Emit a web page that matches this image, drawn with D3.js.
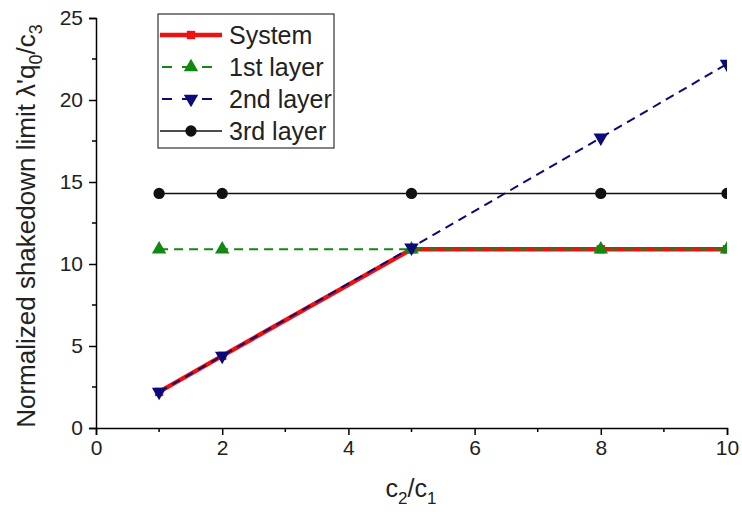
<!DOCTYPE html>
<html><head><meta charset="utf-8">
<script src="https://cdn.jsdelivr.net/npm/d3@7"></script>
<style>body{margin:0;background:#fff}svg{display:block;font-family:Arial,"Liberation Sans",sans-serif}</style>
</head><body><svg id="c" width="742" height="515"></svg>
<script>
const xVals = [1, 2, 5, 8, 10];
const systemVals = [2.2, 4.4, 10.9, 10.9, 10.9];
const layer1Vals = [10.9, 10.9, 10.9, 10.9, 10.9];
const layer2Vals = [2.2, 4.4, 11.0, 17.7, 22.2];
const layer3Vals = [14.3, 14.3, 14.3, 14.3, 14.3];
const seriesNames = ["System", "1st layer", "2nd layer", "3rd layer"];
const xTicks = [0, 2, 4, 6, 8, 10];
const yTicks = [0, 5, 10, 15, 20, 25];

const svg = d3.select("#c");
const L = 96, R = 727, T = 18, B = 428;
const x = d3.scaleLinear().domain([0, 10]).range([L, R]);
const y = d3.scaleLinear().domain([0, 25]).range([B, T]);

svg.append("defs").append("clipPath").attr("id", "clip")
  .append("rect").attr("x", L).attr("y", 0).attr("width", R - L).attr("height", B);

const series = [
  {name: seriesNames[0], vals: systemVals, color: "#ee1111", width: 4.5, dash: null, sym: d3.symbolSquare, size: 70},
  {name: seriesNames[1], vals: layer1Vals, color: "#118811", width: 2, dash: "9,6", sym: d3.symbolTriangle, size: 90},
  {name: seriesNames[2], vals: layer2Vals, color: "#0a0a78", width: 2, dash: "9,6", sym: d3.symbolTriangle, size: 90, flip: true},
  {name: seriesNames[3], vals: layer3Vals, color: "#111111", width: 1.5, dash: null, sym: d3.symbolCircle, size: 100}
];

const g = svg.append("g").attr("clip-path", "url(#clip)");
const line = d3.line().x((d, i) => x(xVals[i])).y(d => y(d));
series.forEach(s => {
  g.append("path").attr("d", line(s.vals)).attr("fill", "none")
    .attr("stroke", s.color).attr("stroke-width", s.width)
    .attr("stroke-dasharray", s.dash);
});
series.forEach(s => {
  g.selectAll(null).data(s.vals).enter().append("path")
    .attr("d", d3.symbol().type(s.sym).size(s.size))
    .attr("transform", (d, i) => `translate(${x(xVals[i])},${y(d)})${s.flip ? " rotate(180)" : ""}`)
    .attr("fill", s.color);
});

// axes
const xAxis = svg.append("g").attr("transform", `translate(0,${B})`)
  .call(d3.axisBottom(x).tickValues(xTicks).tickSize(7).tickPadding(5).tickFormat(d3.format("d")));
xAxis.append("g").selectAll("line").data([1,3,5,7,9]).enter().append("line")
  .attr("x1", d => x(d)).attr("x2", d => x(d)).attr("y1", 0).attr("y2", 4).attr("stroke", "#000").attr("stroke-width", 1.5);
const yAxis = svg.append("g").attr("transform", `translate(${L},0)`)
  .call(d3.axisLeft(y).tickValues(yTicks).tickSize(7).tickPadding(6).tickFormat(d3.format("d")));
yAxis.append("g").selectAll("line").data([2.5,7.5,12.5,17.5,22.5]).enter().append("line")
  .attr("y1", d => y(d)).attr("y2", d => y(d)).attr("x1", 0).attr("x2", -4).attr("stroke", "#000").attr("stroke-width", 1.5);
[xAxis, yAxis].forEach(a => {
  a.select(".domain").attr("stroke-width", 1.5);
  a.selectAll(".tick line").attr("stroke-width", 1.5);
  a.selectAll("text").attr("font-size", 21).attr("fill", "#222").attr("font-family", "Arial, 'Liberation Sans', sans-serif");
});

// axis titles
const xt = svg.append("text").attr("x", 411).attr("y", 497).attr("text-anchor", "middle")
  .attr("font-size", 25).attr("fill", "#222");
xt.append("tspan").text("c");
xt.append("tspan").attr("font-size", 17).attr("dy", 7).text("2");
xt.append("tspan").attr("dy", -7).text("/c");
xt.append("tspan").attr("font-size", 17).attr("dy", 7).text("1");

const yt = svg.append("text").attr("transform", "translate(35,226) rotate(-90)").attr("text-anchor", "middle")
  .attr("font-size", 26).attr("fill", "#222");
yt.append("tspan").text("Normalized shakedown limit  λ'q");
yt.append("tspan").attr("font-size", 18).attr("dy", 7).text("0");
yt.append("tspan").attr("dy", -7).text("/c");
yt.append("tspan").attr("font-size", 18).attr("dy", 7).text("3");

// legend
const lg = svg.append("g").attr("transform", "translate(158,14)");
lg.append("rect").attr("width", 176).attr("height", 134).attr("fill", "#fff").attr("stroke", "#333").attr("stroke-width", 1.2);
series.forEach((s, i) => {
  const yy = 21 + i * 32;
  lg.append("line").attr("x1", 2).attr("x2", 64).attr("y1", yy).attr("y2", yy)
    .attr("stroke", s.color).attr("stroke-width", s.width)
    .attr("stroke-dasharray", s.dash ? "10,10" : null).attr("stroke-dashoffset", s.dash ? -2 : null);
  lg.append("path").attr("d", d3.symbol().type(s.sym).size(s.size))
    .attr("transform", `translate(33,${yy})${s.flip ? " rotate(180)" : ""}`).attr("fill", s.color);
  lg.append("text").attr("x", 71).attr("y", yy + 9).attr("font-size", 25).attr("fill", "#222").text(s.name);
});
</script></body></html>
